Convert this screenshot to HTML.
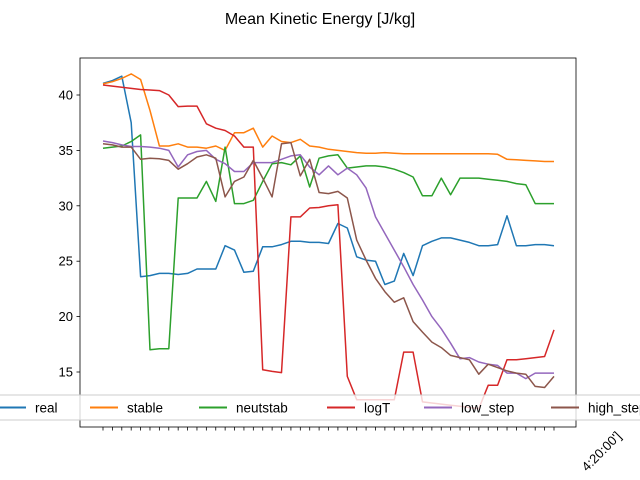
<!DOCTYPE html>
<html><head><meta charset="utf-8"><style>
html,body{margin:0;background:#fff;width:640px;height:480px;overflow:hidden;}
svg{display:block;font-family:"Liberation Sans","DejaVu Sans",sans-serif;}
</style></head><body>
<svg id="chart" width="640" height="480" viewBox="0 0 640 480" xmlns="http://www.w3.org/2000/svg" overflow="hidden">
<rect width="640" height="480" fill="#fff"/>
<text x="320" y="24" text-anchor="middle" font-size="16">Mean Kinetic Energy [J/kg]</text>
<g id="plot"></g>
</svg>
<script>
const seriesNames = ["real","stable","neutstab","logT","low_step","high_step"];
const colors = ["#1f77b4","#ff7f0e","#2ca02c","#d62728","#9467bd","#8c564b"];
const yTicks = [15,20,25,30,35,40];
const xLastLabel = "4:20:00']";
const real = [41.05,41.3,41.7,37.5,23.6,23.7,23.9,23.9,23.8,23.9,24.3,24.3,24.3,26.4,26.0,24.0,24.1,26.3,26.3,26.5,26.8,26.8,26.7,26.7,26.6,28.4,28.0,25.4,25.1,25.0,22.9,23.2,25.7,23.7,26.4,26.8,27.1,27.1,26.9,26.7,26.4,26.4,26.5,29.1,26.4,26.4,26.5,26.5,26.4];
const stable = [41.0,41.2,41.5,41.9,41.4,38.6,35.4,35.4,35.6,35.3,35.3,35.2,35.4,35.0,36.6,36.6,37.0,35.3,36.3,35.8,35.7,36.0,35.4,35.3,35.1,35.0,34.9,34.8,34.75,34.75,34.8,34.75,34.7,34.7,34.7,34.7,34.7,34.7,34.7,34.7,34.7,34.7,34.65,34.2,34.15,34.1,34.05,34.0,34.0];
const neutstab = [35.2,35.3,35.4,35.8,36.4,17.0,17.1,17.1,30.7,30.7,30.7,32.2,30.4,35.3,30.2,30.2,30.5,32.2,33.8,33.9,33.7,34.5,31.7,34.3,34.5,34.6,33.4,33.5,33.6,33.6,33.5,33.3,33.0,32.6,30.9,30.9,32.5,31.0,32.5,32.5,32.5,32.4,32.3,32.2,32.0,31.9,30.2,30.2,30.2];
const logT = [40.9,40.8,40.7,40.6,40.5,40.45,40.4,40.0,38.95,39.0,39.0,37.4,37.0,36.8,36.3,35.3,35.3,15.2,15.05,14.95,29.0,29.0,29.8,29.85,30.0,30.1,14.6,12.5,12.5,12.5,12.5,12.5,16.8,16.8,12.3,12.2,12.1,12.0,11.9,11.8,11.7,13.8,13.8,16.1,16.1,16.2,16.3,16.4,18.8];
const lowStep = [35.85,35.7,35.5,35.35,35.35,35.3,35.2,35.0,33.5,34.6,34.9,35.0,34.2,33.8,33.1,33.1,33.9,33.9,33.9,34.2,34.5,34.6,33.5,32.8,33.6,32.8,33.4,32.8,31.6,29.0,27.5,26.0,24.5,22.9,21.5,20.0,18.9,17.6,16.2,16.3,15.9,15.7,15.6,14.9,14.9,14.4,14.9,14.9,14.9];
const highStep = [35.6,35.5,35.3,35.3,34.2,34.3,34.25,34.1,33.3,33.8,34.4,34.6,34.3,30.8,32.2,32.6,34.1,32.5,30.8,35.6,35.7,32.7,34.2,31.2,31.1,31.3,30.7,26.9,25.1,23.45,22.25,21.3,21.7,19.55,18.6,17.7,17.2,16.5,16.3,16.1,14.8,15.7,15.4,15.1,14.9,14.8,13.7,13.6,14.6];
const allSeries = [real,stable,neutstab,logT,lowStep,highStep];

const NS="http://www.w3.org/2000/svg";
const L=80,R=576,T=58,B=427;
const N=real.length;
const xS=i=>103+i*(554-103)/(N-1);
const yS=v=>372-(v-15)*(372-95)/25;
const g=document.getElementById('plot');
function mk(tag,attrs,parent){const e=document.createElementNS(NS,tag);for(const k in attrs)e.setAttribute(k,attrs[k]);(parent||g).appendChild(e);return e;}

const defs=mk('defs',{});
const cp=mk('clipPath',{id:'clip'},defs);
mk('rect',{x:L,y:T,width:R-L,height:B-T},cp);

const sg=mk('g',{'clip-path':'url(#clip)'});


allSeries.forEach((s,k)=>{
  const p=mk('polyline',{points:s.map((v,i)=>xS(i).toFixed(1)+','+yS(v).toFixed(1)).join(' '),fill:'none',stroke:colors[k],'stroke-width':1.5,'stroke-linejoin':'round'},sg);
  
  
});

const fr=mk('rect',{x:L,y:T,width:R-L,height:B-T,fill:'none',stroke:'#000','stroke-width':0.8});



yTicks.forEach(v=>{
  const y=yS(v);
  const t=mk('line',{x1:L-3.5,x2:L,y1:y,y2:y,stroke:'#000','stroke-width':0.8});
  
  
  const tx=mk('text',{x:L-7,y:y+4.5,'text-anchor':'end','font-size':13});
  tx.textContent=v;
  
  
});
for(let i=0;i<N;i++){
  const x=xS(i);
  const t=mk('line',{x1:x,x2:x,y1:B,y2:B+3.5,stroke:'#000','stroke-width':0.8});
  
  
}
const xl=mk('text',{x:0,y:0,'text-anchor':'end','font-size':13,transform:'translate('+(xS(N-1)+68)+','+(B+10)+') rotate(-45)'});
xl.textContent=xLastLabel;



const lg=mk('g',{});


const lb=mk('rect',{x:-60,y:395,width:760,height:25,rx:2,fill:'rgba(255,255,255,0.8)',stroke:'#ccc','stroke-width':1},lg);


const lx=[-2,90,199,327,424,551];
seriesNames.forEach((n,k)=>{
  const e=mk('g',{},lg);
  
  
  mk('line',{x1:lx[k],x2:lx[k]+28,y1:407.5,y2:407.5,stroke:colors[k],'stroke-width':2},e);
  const t=mk('text',{x:lx[k]+37,y:412.5,'font-size':13.5},e);
  t.textContent=n;
});
</script>
</body></html>
